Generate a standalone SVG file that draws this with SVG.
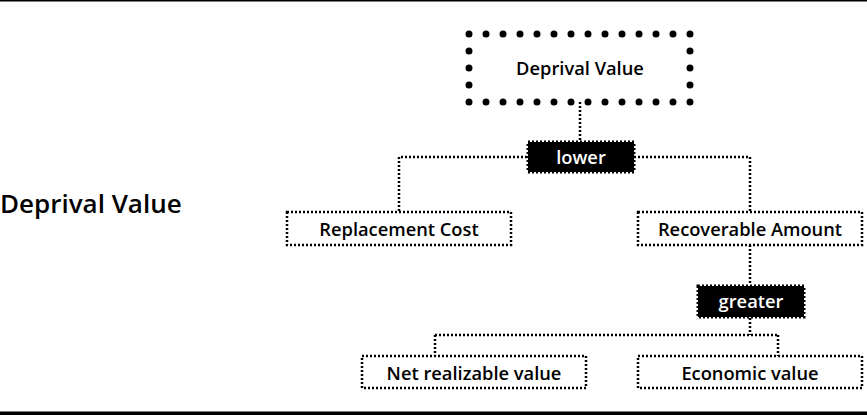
<svg xmlns="http://www.w3.org/2000/svg" width="867" height="415" viewBox="0 0 867 415">
<style>
.t{font-family:"Open Sans","Liberation Sans",sans-serif;font-weight:600;font-size:18.3px;fill:#000;text-anchor:middle}
.w{fill:#fff}
.box{fill:#fff;stroke:#000;stroke-width:2.5;stroke-dasharray:2 2}
.op{fill:#000;stroke:#000;stroke-width:3;stroke-dasharray:2 2}
.c{fill:none;stroke:#000;stroke-width:2.5;stroke-dasharray:2 2}
</style>
<rect x="0" y="0" width="867" height="1.5" fill="#000"/>
<rect x="0" y="411.5" width="867" height="3.5" fill="#000"/>
<text x="0" y="213" style="font-family:'Open Sans','Liberation Sans',sans-serif;font-weight:600;font-size:26px">Deprival Value</text>
<g id="connectors">
<path class="c" d="M580 102V141"/>
<path class="c" d="M527 157H399V212M634 157H750V212"/>
<path class="c" d="M750 245V285"/>
<path class="c" d="M750 318V335M435 335H778M435 335V356M778 335V356"/>
</g>
<g id="deprival-value">
<rect x="469" y="34" width="221" height="68" fill="#fff" stroke="#000" stroke-width="7" stroke-linecap="round" stroke-dasharray="0 17"/>
<text class="t" x="580" y="75">Deprival Value</text>
</g>
<g id="lower">
<rect class="op" x="528" y="142" width="106" height="30"/>
<text class="t w" x="581" y="164">lower</text>
</g>
<g id="replacement-cost">
<rect class="box" x="287" y="212" width="224" height="33"/>
<text class="t" x="399" y="236">Replacement Cost</text>
</g>
<g id="recoverable-amount">
<rect class="box" x="638" y="212" width="224" height="33"/>
<text class="t" x="750" y="236">Recoverable Amount</text>
</g>
<g id="greater">
<rect class="op" x="698" y="286" width="106" height="31"/>
<text class="t w" x="751" y="308">greater</text>
</g>
<g id="net-realizable-value">
<rect class="box" x="362" y="356" width="224" height="32"/>
<text class="t" x="474" y="380">Net realizable value</text>
</g>
<g id="economic-value">
<rect class="box" x="638" y="356" width="224" height="32"/>
<text class="t" x="750" y="380">Economic value</text>
</g>
</svg>
